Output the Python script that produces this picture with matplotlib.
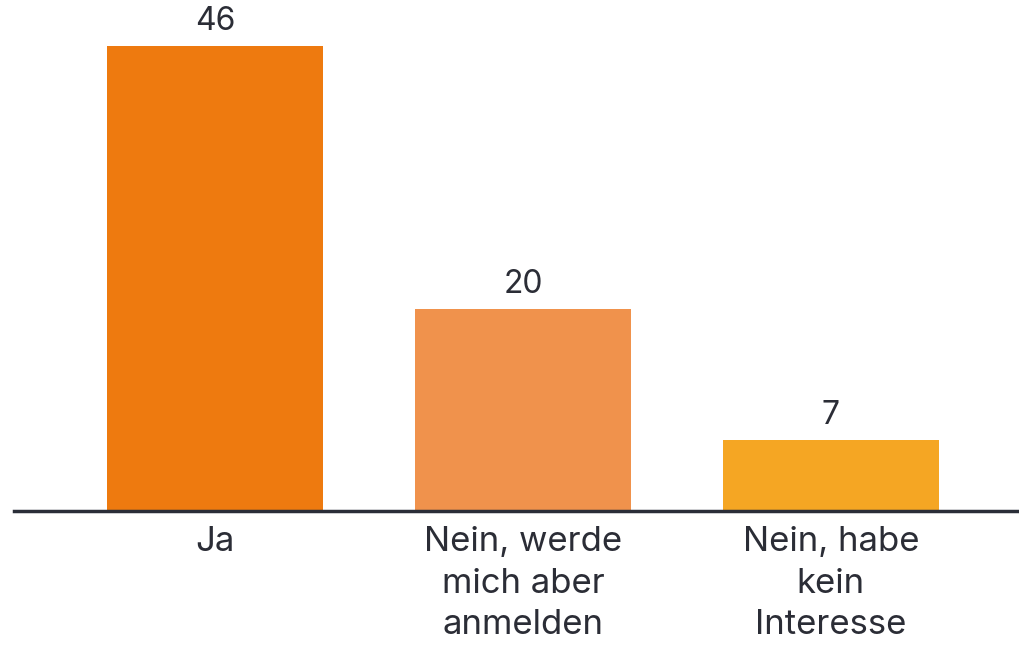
import matplotlib
matplotlib.use("Agg")
import matplotlib.pyplot as plt

categories = ["Ja", "Nein, werde\nmich aber\nanmelden", "Nein, habe\nkein\nInteresse"]
values = [46, 20, 7]
colors = ["#EE7A0F", "#F0924C", "#F5A623"]

plt.rcParams['font.family'] = ['Inter', 'DejaVu Sans']
text_color = "#2b2d36"

fig = plt.figure(figsize=(10.2, 6.46), dpi=100)
ax = fig.add_axes([14/1020, 135/646, 1 - 14/1020, 511/646])

x = list(range(len(categories)))
bars = ax.bar(x, values, width=0.70, color=colors, zorder=2)
for xi, v in zip(x, values):
    ax.text(xi, v + 0.9, str(v), ha="center", va="bottom", fontsize=23, color=text_color)

ax.set_xlim(-0.653, 2.614)
ax.set_ylim(0, 50.6)
ax.set_yticks([])
ax.set_xticks(x)
ax.set_xticklabels(categories, fontsize=25, color=text_color, linespacing=1.37)
ax.tick_params(axis="x", length=0, pad=11)
for s in ["top", "right", "left"]:
    ax.spines[s].set_visible(False)
ax.spines["bottom"].set_color("#2a2e38")
ax.spines["bottom"].set_linewidth(2.5)
ax.spines["bottom"].set_zorder(3)

fig.savefig("out.png", dpi=100)
